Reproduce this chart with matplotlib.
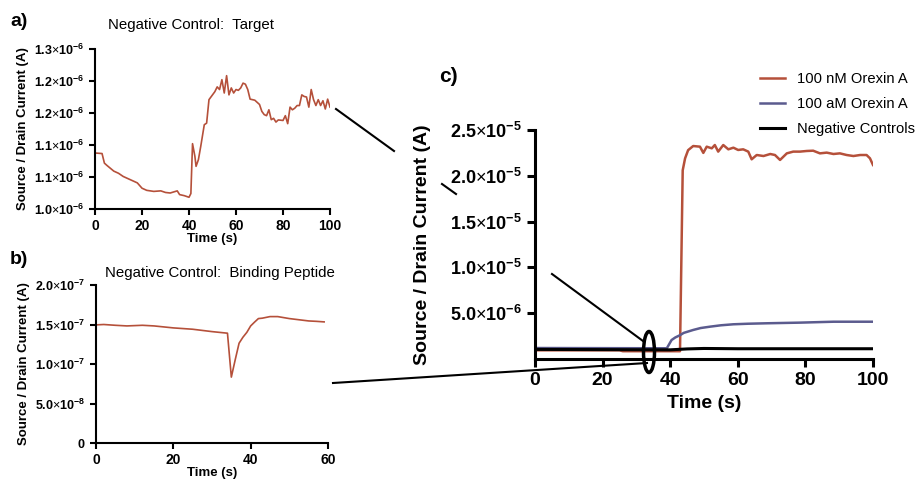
import matplotlib
matplotlib.use("Agg")
import matplotlib.pyplot as plt
from matplotlib.lines import Line2D
from matplotlib.patches import Ellipse
from matplotlib.ticker import FixedLocator, FixedFormatter

plt.rcParams['font.family'] = 'Liberation Sans'
plt.rcParams['mathtext.fontset'] = 'custom'
plt.rcParams['mathtext.rm'] = 'Liberation Sans'
plt.rcParams['mathtext.bf'] = 'Liberation Sans:bold'

# ---- data (currents in units noted per panel) ----
# panel a: negative control, target (x1e-6 A)
t_a = [0, 3, 4, 5, 8, 10, 12, 15, 18, 20, 22, 25, 28, 30, 32, 35, 36, 38, 40, 40.8,
       41.5, 42.5, 43, 44, 45, 46.5, 47.5, 48.5, 50, 51, 52, 53, 54, 55, 56, 57, 58,
       59, 60, 61, 62, 63, 64, 65, 66, 68, 70, 71, 72, 73, 74, 75, 76, 77, 78, 80,
       81, 82, 83, 84, 85, 86, 87, 88, 89, 90, 91, 92, 93, 94, 95, 96, 97, 98, 99, 100]
i_a = [1.105, 1.104, 1.086, 1.082, 1.071, 1.067, 1.061, 1.055, 1.049, 1.039, 1.035,
       1.033, 1.034, 1.031, 1.030, 1.034, 1.027, 1.025, 1.022, 1.029,
       1.1225, 1.099, 1.080, 1.0925, 1.1175, 1.158, 1.161, 1.205, 1.214, 1.220, 1.229,
       1.224, 1.2425, 1.2175, 1.250, 1.214, 1.227, 1.2175, 1.224, 1.2225, 1.227, 1.236,
       1.234, 1.224, 1.206, 1.204, 1.196, 1.183, 1.177, 1.175, 1.186, 1.1675, 1.170,
       1.163, 1.167, 1.166, 1.175, 1.160, 1.191, 1.186, 1.189, 1.194, 1.194, 1.214,
       1.211, 1.210, 1.191, 1.224, 1.205, 1.194, 1.205, 1.194, 1.203, 1.1875, 1.206, 1.191]
a_yticks = [1.0, 1.06, 1.12, 1.18, 1.24, 1.30]
a_ylabels = ['1.0', '1.1', '1.1', '1.2', '1.2', '1.3']

# panel b: negative control, binding peptide (x1e-7 A)
t_b = [0, 2, 5, 8, 12, 15, 20, 25, 30, 34, 35, 36, 37, 38, 39, 40, 41, 42, 43, 45,
       47, 50, 55, 57, 59]
i_b = [1.495, 1.50, 1.49, 1.482, 1.49, 1.482, 1.457, 1.44, 1.41, 1.39, 0.834, 1.053,
       1.263, 1.339, 1.40, 1.482, 1.53, 1.575, 1.58, 1.60, 1.60, 1.575, 1.545, 1.54, 1.533]
b_yticks = [0, 0.5, 1.0, 1.5, 2.0]
b_ylabels = ['0', '5.0', '1.0', '1.5', '2.0']
b_yexp = ['', '-8', '-7', '-7', '-7']

# panel c (x1e-6 A)
t_red = [0, 25, 26, 42.9, 43.7, 44.4, 45.3, 46.8, 48.8, 49.8, 50.8, 52.3, 53.2, 54.2,
         55.7, 57.2, 58.7, 60.1, 61.6, 63.1, 64.1, 65.6, 67.6, 69.6, 71, 72.5, 74.5,
         76.4, 78.4, 80.4, 82.3, 84.3, 86.3, 88.3, 90.2, 92.2, 94.2, 96.2, 98.1, 99.1, 100]
i_red = [0.95, 0.95, 0.85, 0.85, 20.6, 21.9, 22.8, 23.25, 23.18, 22.5, 23.18, 23.0,
         23.36, 22.64, 23.36, 22.89, 23.07, 22.82, 22.89, 22.64, 21.8, 22.27, 22.16,
         22.38, 22.27, 21.73, 22.45, 22.64, 22.64, 22.71, 22.74, 22.45, 22.53, 22.38,
         22.45, 22.27, 22.16, 22.27, 22.27, 21.91, 21.18]
t_blue = [0, 39, 40.4, 41.5, 42.9, 44, 46.8, 49, 51.8, 55, 58.7, 63, 68.6, 78.4, 88.3, 100]
i_blue = [1.2, 1.17, 2.07, 2.35, 2.6, 2.85, 3.17, 3.38, 3.53, 3.68, 3.79, 3.85, 3.90,
          3.97, 4.07, 4.07]
t_black = [0, 40, 45, 50, 60, 100]
i_black = [1.05, 1.0, 1.1, 1.15, 1.12, 1.12]
c_yticks = [5, 10, 15, 20, 25]
c_ylabels = ['5.0', '1.0', '1.5', '2.0', '2.5']
c_yexp = ['-6', '-5', '-5', '-5', '-5']
series_names = ['100 nM Orexin A', '100 aM Orexin A', 'Negative Controls']

RED = '#b5503a'
BLUE = '#5b5b8e'
W, H = 923, 479


def box(left, top, right, bottom):
    return [left / W, (H - bottom) / H, (right - left) / W, (bottom - top) / H]


def sci(m, e):
    if not e:
        return r'$\mathbf{%s}$' % m
    return r'$\mathbf{%s}{\times}\mathbf{10^{%s}}$' % (m, e)


def style(ax, lw, tl):
    for s in ['top', 'right']:
        ax.spines[s].set_visible(False)
    for s in ['left', 'bottom']:
        ax.spines[s].set_linewidth(lw)
    ax.tick_params(width=lw, length=tl)


fig = plt.figure(figsize=(W / 100, H / 100), dpi=100)

# ---- a ----
ax = fig.add_axes(box(95, 49, 330, 209))
ax.plot(t_a, i_a, color=RED, lw=1.2)
ax.set_xlim(0, 100)
ax.set_ylim(1.0, 1.3)
ax.xaxis.set_major_locator(FixedLocator([0, 20, 40, 60, 80, 100]))
ax.yaxis.set_major_locator(FixedLocator(a_yticks))
ax.yaxis.set_major_formatter(FixedFormatter([sci(m, '-6') for m in a_ylabels]))
style(ax, 1.5, 4)
ax.tick_params(axis='y', labelsize=9)
ax.tick_params(axis='x', labelsize=10)
for lab in ax.get_xticklabels():
    lab.set_fontweight('bold')
ax.set_xlabel('Time (s)', fontsize=9.5, fontweight='bold', labelpad=0)
ax.set_ylabel('Source / Drain Current (A)', fontsize=9.5, fontweight='bold', labelpad=4)
fig.text(191 / W, 1 - 25 / H, 'Negative Control:  Target', fontsize=10.8,
         ha='center', va='center')
fig.text(10 / W, 1 - 22 / H, 'a)', fontsize=14, fontweight='bold', va='center')

# ---- b ----
ax = fig.add_axes(box(96, 285, 328, 443))
ax.plot(t_b, i_b, color=RED, lw=1.2)
ax.set_xlim(0, 60)
ax.set_ylim(0, 2.0)
ax.xaxis.set_major_locator(FixedLocator([0, 20, 40, 60]))
ax.yaxis.set_major_locator(FixedLocator(b_yticks))
ax.yaxis.set_major_formatter(FixedFormatter([sci(m, e) for m, e in zip(b_ylabels, b_yexp)]))
style(ax, 1.5, 4)
ax.tick_params(axis='y', labelsize=9)
ax.tick_params(axis='x', labelsize=10)
for lab in ax.get_xticklabels():
    lab.set_fontweight('bold')
ax.set_xlabel('Time (s)', fontsize=9.5, fontweight='bold', labelpad=0)
ax.set_ylabel('Source / Drain Current (A)', fontsize=9.5, fontweight='bold', labelpad=4)
fig.text(220 / W, 1 - 273 / H, 'Negative Control:  Binding Peptide', fontsize=10.8,
         ha='center', va='center')
fig.text(10 / W, 1 - 259 / H, 'b)', fontsize=14, fontweight='bold', va='center')

# ---- c ----
ax = fig.add_axes(box(535, 130, 873, 359))
l1, = ax.plot(t_red, i_red, color=RED, lw=1.8)
l2, = ax.plot(t_blue, i_blue, color=BLUE, lw=1.8)
l3, = ax.plot(t_black, i_black, color='black', lw=2.2)
ax.set_xlim(0, 100)
ax.set_ylim(0, 25)
ax.xaxis.set_major_locator(FixedLocator([0, 20, 40, 60, 80, 100]))
ax.yaxis.set_major_locator(FixedLocator(c_yticks))
ax.yaxis.set_major_formatter(FixedFormatter([sci(m, e) for m, e in zip(c_ylabels, c_yexp)]))
style(ax, 2.2, 6)
ax.tick_params(axis='y', labelsize=13)
ax.tick_params(axis='x', labelsize=14)
for lab in ax.get_xticklabels():
    lab.set_fontweight('bold')
ax.set_xlabel('Time (s)', fontsize=14, fontweight='bold', labelpad=4)
ax.set_ylabel('Source / Drain Current (A)', fontsize=14, fontweight='bold', labelpad=14)
fig.text(439 / W, 1 - 77 / H, 'c)', fontsize=15, fontweight='bold', va='center')
fig.legend([l1, l2, l3], series_names, loc='upper left',
           bbox_to_anchor=(747 / W, 1 - 59 / H), frameon=False, fontsize=10.6,
           handlelength=1.7, handletextpad=0.8, labelspacing=0.75)

# ---- zoom connectors ----
def seg(x0, y0, x1, y1, lw=1.5):
    fig.add_artist(Line2D([x0 / W, x1 / W], [1 - y0 / H, 1 - y1 / H],
                          transform=fig.transFigure, color='black', lw=lw))

seg(336, 109, 394, 151)
seg(442, 184, 456, 194)
seg(552, 274, 643, 341)
seg(333, 383, 647, 363)
fig.add_artist(Ellipse((649 / W, 1 - 352 / H), 11 / W, 41 / H,
                       transform=fig.transFigure, fill=False, lw=2.5, color='black'))

fig.savefig('out.png', dpi=100)
